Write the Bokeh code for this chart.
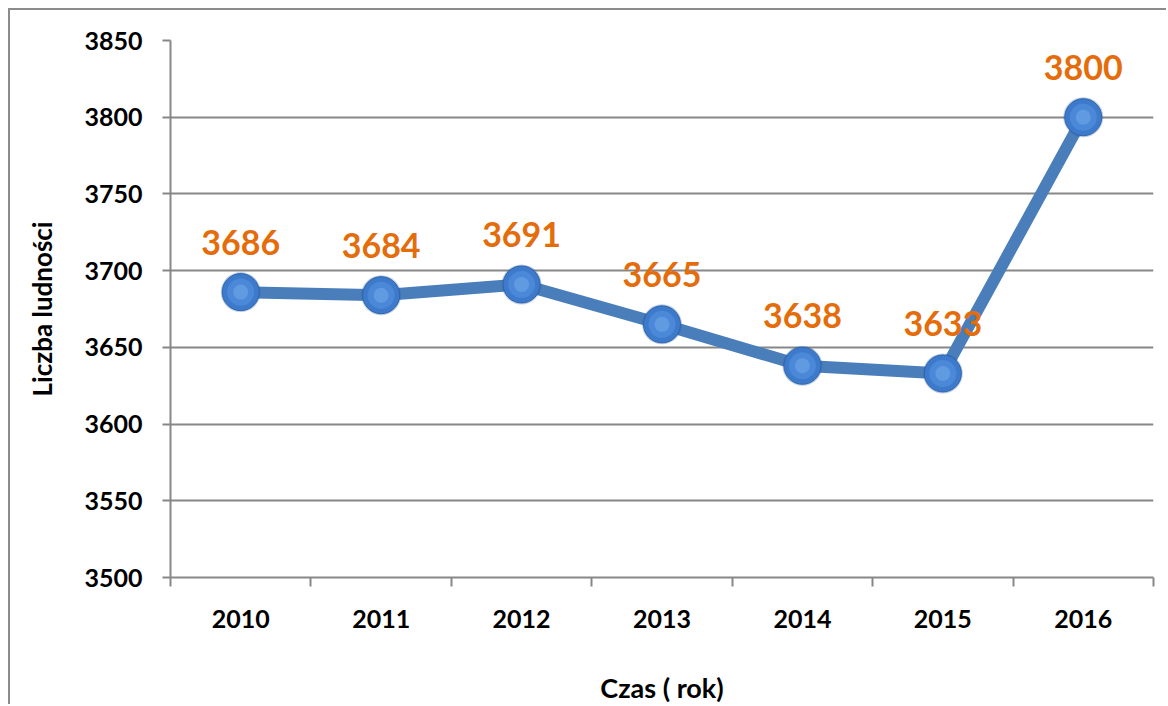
from bokeh.plotting import figure
from bokeh.models import FixedTicker, ColumnDataSource, Range1d
from bokeh.embed import file_html
from bokeh.resources import INLINE
from bokeh.core.properties import value

years = ["2010", "2011", "2012", "2013", "2014", "2015", "2016"]
population = [3686, 3684, 3691, 3665, 3638, 3633, 3800]
y_ticks = [3500, 3550, 3600, 3650, 3700, 3750, 3800, 3850]

xs = [i + 0.5 for i in range(len(years))]
src = ColumnDataSource(dict(x=xs, y=population, label=[str(v) for v in population]))

FONT = "Lato"
GRID = "#878787"

p = figure(width=1158, height=696, output_backend="svg", toolbar_location=None,
           x_range=Range1d(0, len(years)), y_range=Range1d(3500, 3850),
           min_border_left=160, min_border_right=15, min_border_top=30, min_border_bottom=128)
p.styles = {"margin-left": "8px", "margin-top": "8px",
            "border-left": "2px solid #8c8c8c", "border-top": "2px solid #8c8c8c"}
p.outline_line_color = None
p.background_fill_color = "white"
p.border_fill_color = "white"

# x axis
p.xaxis.ticker = FixedTicker(ticks=xs, minor_ticks=list(range(len(years) + 1)))
p.xaxis.major_label_overrides = {x: y for x, y in zip(xs, years)}
p.xaxis.major_tick_line_color = None
p.xaxis.major_tick_out = 0
p.xaxis.major_tick_in = 0
p.xaxis.minor_tick_line_color = GRID
p.xaxis.minor_tick_line_width = 2
p.xaxis.minor_tick_out = 9
p.xaxis.minor_tick_in = 0
p.xaxis.axis_line_color = GRID
p.xaxis.axis_line_width = 2
p.xaxis.major_label_standoff = 23
p.xaxis.major_label_text_font = FONT
p.xaxis.major_label_text_font_style = "bold"
p.xaxis.major_label_text_font_size = "25px"
p.xaxis.major_label_text_color = "black"
p.xaxis.axis_label = "Czas ( rok)"
p.xaxis.axis_label_text_font = FONT
p.xaxis.axis_label_text_font_style = "bold"
p.xaxis.axis_label_text_font_size = "27px"
p.xaxis.axis_label_text_color = "black"
p.xaxis.axis_label_standoff = 40

# y axis
p.yaxis.ticker = FixedTicker(ticks=y_ticks, minor_ticks=[])
p.yaxis.major_tick_line_color = GRID
p.yaxis.major_tick_line_width = 2
p.yaxis.major_tick_out = 8
p.yaxis.major_tick_in = 0
p.yaxis.axis_line_color = GRID
p.yaxis.axis_line_width = 2
p.yaxis.major_label_standoff = 20
p.yaxis.major_label_text_font = FONT
p.yaxis.major_label_text_font_style = "bold"
p.yaxis.major_label_text_font_size = "25px"
p.yaxis.major_label_text_color = "black"
p.yaxis.axis_label = "Liczba ludności"
p.yaxis.axis_label_text_font = FONT
p.yaxis.axis_label_text_font_style = "bold"
p.yaxis.axis_label_text_font_size = "26px"
p.yaxis.axis_label_text_color = "black"
p.yaxis.axis_label_standoff = 23

p.xgrid.grid_line_color = None
p.ygrid.grid_line_color = GRID
p.ygrid.grid_line_width = 2

# line and markers
p.line("x", "y", source=src, line_color="#4a7ebb", line_width=12)
p.scatter("x", "y", source=src, size=40, fill_color="#2c5f9e", line_color=None, alpha=0.3)
p.scatter("x", "y", source=src, size=37, fill_color="#3d7acb", line_color="#2f65ad", line_width=1)
p.scatter("x", "y", source=src, size=27, fill_color="#4f8ddb", line_color=None, alpha=0.8)
p.scatter("x", "y", source=src, size=15, fill_color="#6ea6ea", line_color=None, alpha=0.6)

p.text("x", "y", text="label", source=src, text_align="center", text_baseline="middle",
       y_offset=-50, text_font=value(FONT), text_font_style="bold", text_font_size="34px",
       text_color="#e46c0a")

open("out.html", "w").write(file_html(p, INLINE))
